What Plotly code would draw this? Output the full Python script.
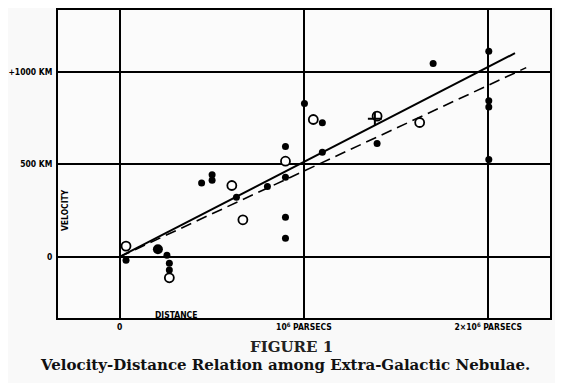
import plotly.graph_objects as go

# Individual nebulae (filled dots): distance in parsecs x 1e6, velocity km/s
nebula_dist = [0.035, 0.257, 0.27, 0.27, 0.445, 0.502, 0.502, 0.634, 0.802,
               0.9, 0.9, 0.9, 0.9, 1.003, 1.1, 1.1, 1.397, 1.701,
               2.003, 2.003, 2.003, 2.003]
nebula_vel = [-18, 9, -35, -71, 399, 443, 413, 321, 379,
              596, 430, 214, 101, 828, 723, 564, 612, 1043,
              1110, 842, 808, 525]

# Large dot (Magellanic clouds)
cloud_dist = [0.208]
cloud_vel = [41]

# Groups (open circles)
group_dist = [0.035, 0.27, 0.609, 0.669, 0.9, 1.051, 1.397, 1.628]
group_vel = [58, -113, 385, 200, 516, 741, 759, 725]

# Cross mark (Virgo cluster mean)
cross_dist = [1.385]
cross_vel = [745]

# Fitted relations
solid_x = [0.0, 2.145]
solid_y = [0, 1099]
dashed_x = [0.0, 2.206]
dashed_y = [0, 1021]

y_tickvals = [0, 500, 1000]
y_ticktext = ["0", "500 KM", "+1000 KM"]
x_tickvals = [0, 1, 2]
x_ticktext = ["0", "10<sup>6</sup> PARSECS", "2\u00d710<sup>6</sup> PARSECS"]

fig = go.Figure()
fig.add_trace(go.Scatter(x=solid_x, y=solid_y, mode="lines",
                         line=dict(color="black", width=2)))
fig.add_trace(go.Scatter(x=dashed_x, y=dashed_y, mode="lines",
                         line=dict(color="black", width=1.6, dash="11px,6px")))
fig.add_trace(go.Scatter(x=nebula_dist, y=nebula_vel, mode="markers",
                         marker=dict(color="black", size=7, symbol="circle")))
fig.add_trace(go.Scatter(x=cloud_dist, y=cloud_vel, mode="markers",
                         marker=dict(color="black", size=10, symbol="circle")))
fig.add_trace(go.Scatter(x=group_dist, y=group_vel, mode="markers",
                         marker=dict(color="white", size=9, symbol="circle",
                                     line=dict(color="black", width=1.8))))
fig.add_trace(go.Scatter(x=cross_dist, y=cross_vel, mode="markers",
                         marker=dict(color="black", size=10, symbol="cross-thin",
                                     line=dict(color="black", width=2))))

tick_font = dict(family="DejaVu Sans Condensed, DejaVu Sans", size=8.5,
                 color="black", weight="bold")

fig.update_layout(
    width=555, height=375,
    margin=dict(l=40, r=13, t=0, b=65),
    paper_bgcolor="#f9f9f9",
    plot_bgcolor="#fbfbfb",
    showlegend=False,
    xaxis=dict(range=[-0.334, 2.335], tickvals=x_tickvals, ticktext=x_ticktext,
               showgrid=True, gridcolor="black", gridwidth=1.5, zeroline=False,
               showline=True, linecolor="black", linewidth=2, mirror=True,
               ticks="", tickfont=tick_font),
    yaxis=dict(range=[-330, 1332], tickvals=y_tickvals, ticktext=y_ticktext,
               showgrid=True, gridcolor="black", gridwidth=1.5, zeroline=False,
               showline=True, linecolor="black", linewidth=2, mirror=True,
               ticks="", tickfont=tick_font, ticklabelstandoff=2),
    annotations=[
        dict(text="VELOCITY", x=0.014, y=0.35, xref="paper", yref="paper",
             showarrow=False, textangle=-90, font=tick_font,
             xanchor="center", yanchor="middle"),
        dict(text="DISTANCE", x=0.24, y=-0.014, xref="paper", yref="paper",
             showarrow=False, font=tick_font, xanchor="center", yanchor="bottom"),
        dict(text="FIGURE 1", x=0.474, y=-0.093, xref="paper", yref="paper",
             showarrow=False, xanchor="center", yanchor="middle",
             font=dict(family="DejaVu Serif", size=15, color="#222", weight="bold")),
        dict(text="Velocity-Distance Relation among Extra-Galactic Nebulae.",
             x=0.462, y=-0.152, xref="paper", yref="paper",
             showarrow=False, xanchor="center", yanchor="middle",
             font=dict(family="DejaVu Serif", size=15, color="#111", weight="bold")),
    ],
)

fig.write_html("out.html")
